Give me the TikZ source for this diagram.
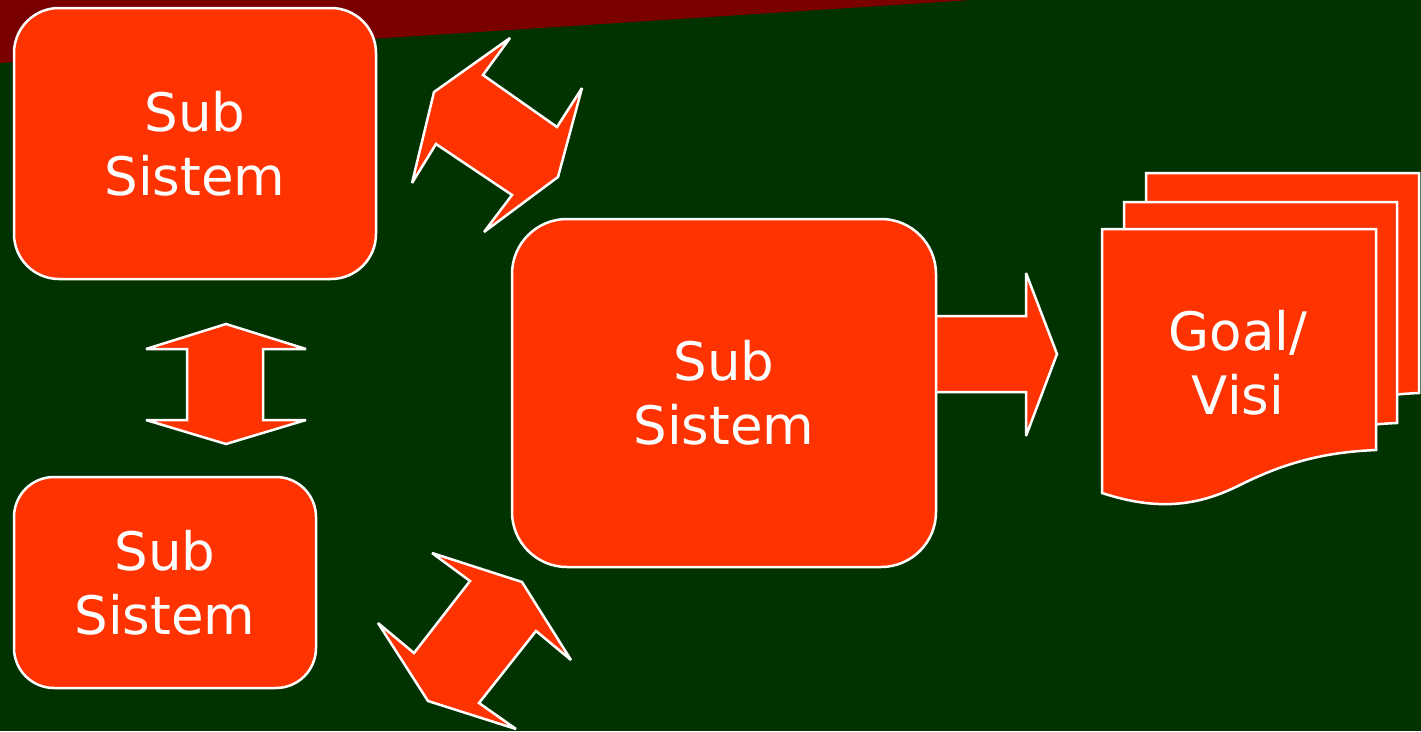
\documentclass[tikz,border=0pt]{standalone}
\usepackage{fontspec}
\setmainfont{DejaVu Sans}
\definecolor{bgc}{HTML}{003300}
\definecolor{bandc}{HTML}{7A0000}
\definecolor{fillc}{HTML}{FF3300}
\begin{document}
\begin{tikzpicture}[x=1pt,y=-1pt,line join=miter,miter limit=3]
\tikzset{
  shapefill/.style={fill=fillc, draw=white, line width=2.5pt},
  box/.style={shapefill, rectangle, text=white, align=center,
    font=\fontsize{53}{64}\selectfont, inner sep=0pt},
  label/.style={text=white, align=center, font=\fontsize{53}{64}\selectfont, inner sep=0pt}
}
\fill[bgc] (0,0) rectangle (1421,731);
\useasboundingbox (0,0) rectangle (1421,731);
\fill[bandc] (0,0) -- (972,0) -- (0,63) -- cycle;

% right arrow (under the middle box)
\draw[shapefill] (930,316) -- (1026,316) -- (1026,273) -- (1057,354) -- (1026,436) -- (1026,392) -- (930,392);

% boxes
\node[box, minimum width=362pt, minimum height=271pt, rounded corners=45pt] (s1) at (195,143.5) {Sub\\Sistem};
\node[box, minimum width=302pt, minimum height=211pt, rounded corners=40pt] (s2) at (165,582.5) {Sub\\Sistem};
\node[box, minimum width=424pt, minimum height=348pt, rounded corners=55pt] (s3) at (724,393) {Sub\\Sistem};

% vertical double arrow
\draw[shapefill] (226,324) -- (306,349) -- (263,349) -- (263,420) -- (306,420) -- (226,444)
  -- (146,420) -- (187,420) -- (187,349) -- (146,349) -- cycle;

% upper diagonal double arrow
\draw[shapefill] (510,38) -- (483,75) -- (557,127) -- (582,88) -- (558,177) -- (484,232)
  -- (512,195) -- (436,144) -- (412,183) -- (434,92) -- cycle;

% lower diagonal double arrow
\draw[shapefill] (432,553) -- (522,582) -- (571,660) -- (536,631) -- (479,703) -- (516,729)
  -- (428,701) -- (378,623) -- (414,653) -- (470,581) -- cycle;

% document stack
\draw[shapefill] (1146,173) -- (1419,173) -- (1419,393)
  .. controls (1373,395) and (1333,403) .. (1283,428)
  .. controls (1243,448) and (1203,455) .. (1146,436) -- cycle;
\draw[shapefill] (1124,202) -- (1397,202) -- (1397,423)
  .. controls (1351,425) and (1311,433) .. (1261,458)
  .. controls (1221,478) and (1181,485) .. (1124,466) -- cycle;
\draw[shapefill] (1102,229) -- (1376,229) -- (1376,450)
  .. controls (1330,452) and (1290,460) .. (1240,485)
  .. controls (1200,505) and (1160,512) .. (1102,493) -- cycle;
\node[label] (goal) at (1238,363) {Goal/\\Visi};
\end{tikzpicture}
\end{document}
